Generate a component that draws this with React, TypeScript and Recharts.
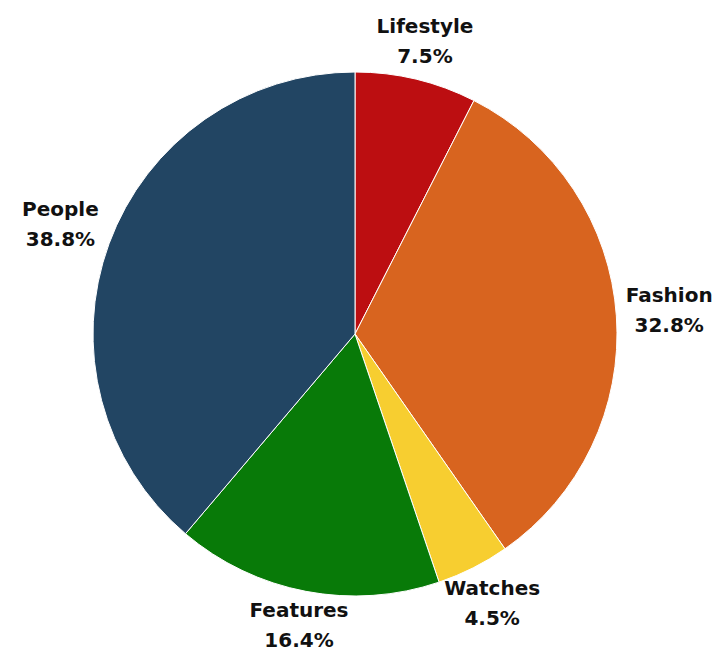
import { PieChart, Pie, Cell } from "recharts";

const categories = ["Lifestyle", "Fashion", "Watches", "Features", "People"];
const shares = [7.5, 32.8, 4.5, 16.4, 38.8];
const colors = ["#BC0E11", "#D8641F", "#F7CE30", "#087A08", "#224563"];

const data = categories.map((name, i) => ({ name, value: shares[i] }));

const RADIAN = Math.PI / 180;

function renderLabel(props: any) {
  const { cx, cy, midAngle, outerRadius, name, value } = props;
  const cos = Math.cos(-midAngle * RADIAN);
  const sin = Math.sin(-midAngle * RADIAN);
  const r = outerRadius + 33 + 20 * Math.abs(cos);
  const x = cx + r * cos;
  const y = cy + r * sin;
  return (
    <text
      x={x}
      y={y}
      textAnchor="middle"
      fill="#111"
      fontFamily="'DejaVu Sans', sans-serif"
      fontWeight={700}
      fontSize={20}
    >
      <tspan x={x} dy={-10}>{name}</tspan>
      <tspan x={x} dy={30}>{value.toFixed(1)}%</tspan>
    </text>
  );
}

export default function App() {
  return (
    <div style={{ position: "absolute", left: 0, top: 0, background: "#fff" }}>
      <PieChart width={720} height={654} margin={{ top: 0, right: 0, bottom: 0, left: 0 }}>
        <Pie
          data={data}
          dataKey="value"
          nameKey="name"
          cx={355}
          cy={334}
          outerRadius={262}
          startAngle={90}
          endAngle={-270}
          stroke="#fff"
          strokeWidth={1}
          label={renderLabel}
          labelLine={false}
          isAnimationActive={false}
        >
          {data.map((d, i) => (
            <Cell key={d.name} fill={colors[i]} />
          ))}
        </Pie>
      </PieChart>
    </div>
  );
}
